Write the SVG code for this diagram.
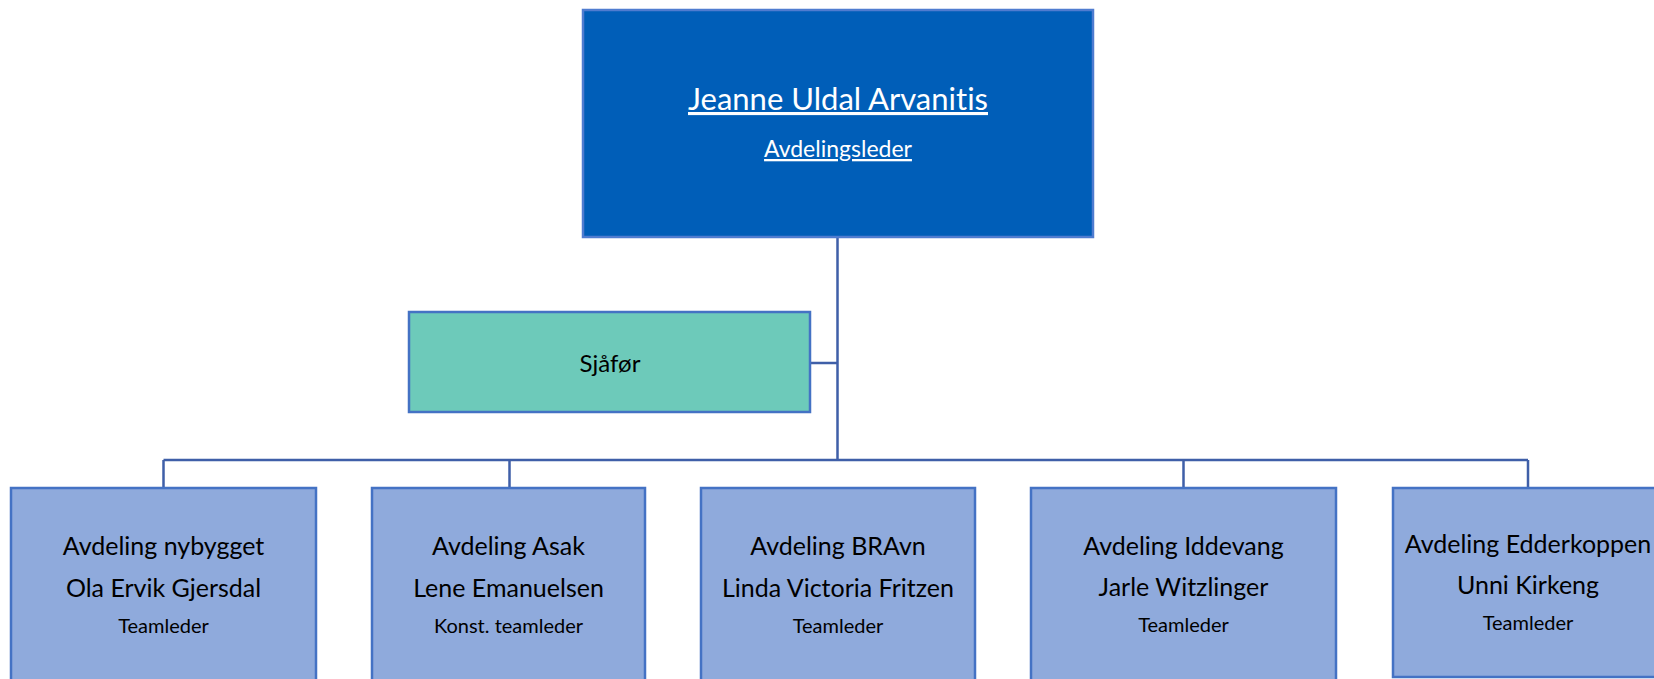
<svg xmlns="http://www.w3.org/2000/svg" width="1654" height="679" viewBox="0 0 1654 679">
<style>
text{font-family:Lato,"Noto Sans","Liberation Sans",sans-serif;text-anchor:middle;fill:#000;font-variant-ligatures:none}
.conn{fill:none;stroke:#3F5FA8;stroke-width:2.5}
.team{fill:#8FAADC;stroke:#4472C4;stroke-width:2.5}
.l1{font-size:25px}
.l3{font-size:20px}
</style>
<rect width="1654" height="679" fill="#fff"/>
<g id="connectors">
<path class="conn" d="M837.5 237V460M810 363H837.5M163.5 460H1528M163.5 460V488M509.5 460V488M1183.5 460V488M1528 460V488"/>
</g>
<g id="leader">
<rect x="583" y="10" width="510" height="227" fill="#005EB8" stroke="#4F7CD0" stroke-width="2.5"/>
<text x="838" y="110" style="font-size:31px;fill:#fff" text-decoration="underline">Jeanne Uldal Arvanitis</text>
<text x="838" y="157" style="font-size:23px;fill:#fff" text-decoration="underline">Avdelingsleder</text>
</g>
<g id="sjafor">
<rect x="409" y="312" width="401" height="100" fill="#6DCABA" stroke="#4472C4" stroke-width="2.5"/>
<text x="610" y="372" style="font-size:24px">Sjåfør</text>
</g>
<g id="nybygget">
<rect class="team" x="11" y="488" width="305" height="200"/>
<text class="l1" x="163.5" y="555">Avdeling nybygget</text>
<text class="l1" x="163.5" y="597">Ola Ervik Gjersdal</text>
<text class="l3" x="163.5" y="633">Teamleder</text>
</g>
<g id="asak">
<rect class="team" x="372" y="488" width="273" height="200"/>
<text class="l1" x="508.5" y="555">Avdeling Asak</text>
<text class="l1" x="508.5" y="597">Lene Emanuelsen</text>
<text class="l3" x="508.5" y="633">Konst. teamleder</text>
</g>
<g id="bravn">
<rect class="team" x="701" y="488" width="274" height="200"/>
<text class="l1" x="838" y="555">Avdeling BRAvn</text>
<text class="l1" x="838" y="597">Linda Victoria Fritzen</text>
<text class="l3" x="838" y="633">Teamleder</text>
</g>
<g id="iddevang">
<rect class="team" x="1031" y="488" width="305" height="200"/>
<text class="l1" x="1183.5" y="555">Avdeling Iddevang</text>
<text class="l1" x="1183.5" y="596">Jarle Witzlinger</text>
<text class="l3" x="1183.5" y="632">Teamleder</text>
</g>
<g id="edderkoppen">
<rect class="team" x="1393" y="488" width="290" height="189"/>
<text class="l1" x="1528" y="553">Avdeling Edderkoppen</text>
<text class="l1" x="1528" y="594">Unni Kirkeng</text>
<text class="l3" x="1528" y="630">Teamleder</text>
</g>
</svg>
